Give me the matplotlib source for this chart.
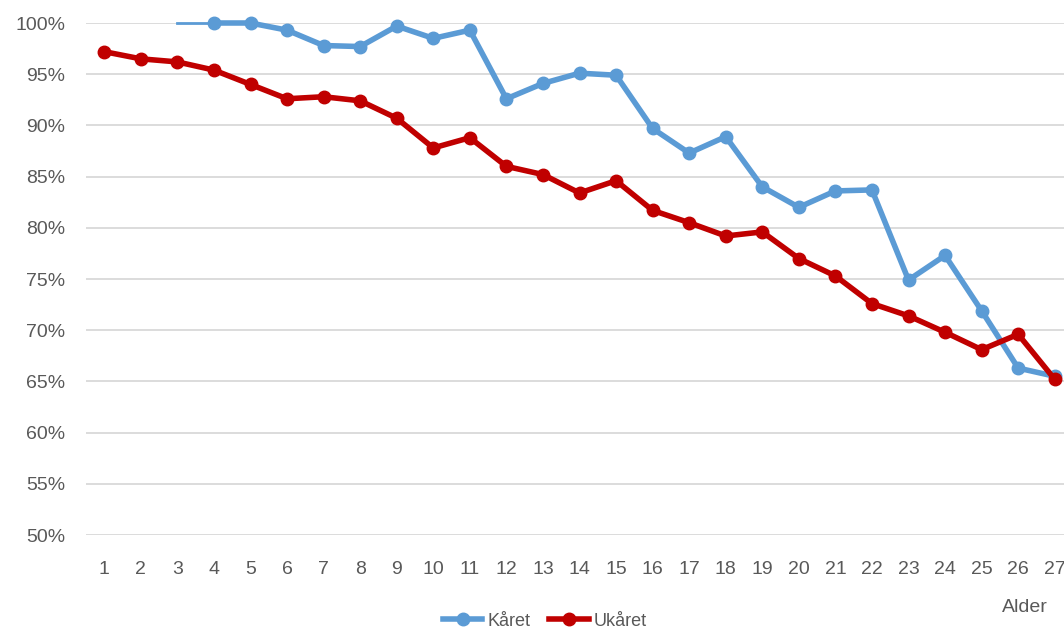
import matplotlib.pyplot as plt
import numpy as np

plt.rcParams['font.family'] = ['Liberation Sans', 'DejaVu Sans']

# data
alder = np.arange(1, 28)
kaaret = [np.nan, np.nan, 100.0, 100.0, 100.0, 99.3, 97.8, 97.7, 99.7, 98.5, 99.3,
          92.6, 94.1, 95.1, 94.9, 89.7, 87.3, 88.9, 84.0, 82.0, 83.6, 83.7,
          74.9, 77.3, 71.9, 66.3, 65.5]
ukaaret = [97.2, 96.5, 96.2, 95.4, 94.0, 92.6, 92.8, 92.4, 90.7, 87.8, 88.8,
           86.0, 85.2, 83.4, 84.6, 81.7, 80.5, 79.2, 79.6, 77.0, 75.3, 72.6,
           71.4, 69.8, 68.1, 69.6, 65.2]

blue = '#5B9BD5'
red = '#C00000'
grey = '#595959'

fig = plt.figure(figsize=(10.64, 6.3), dpi=100)
ax = fig.add_axes([86 / 1064, 95 / 630, 987 / 1064, 512 / 630])

# første stykke (3-4) er tynnere og uten markør
ax.plot(alder[2:4], kaaret[2:4], color=blue, linewidth=2, clip_on=False, zorder=3)
ax.plot(alder[3:], kaaret[3:], color=blue, linewidth=4, marker='o', markersize=9,
        label='Kåret', clip_on=False, zorder=3)
ax.plot(alder, ukaaret, color=red, linewidth=4, marker='o', markersize=9,
        label='Ukåret', clip_on=False, zorder=4)

ax.set_xlim(0.5, 27.5)
ax.set_ylim(50, 100)
ax.set_yticks(np.arange(50, 101, 5))
ax.set_yticklabels([f'{v}%' for v in range(50, 101, 5)])
ax.set_xticks(alder)
ax.set_xticklabels([str(a) for a in alder])

ax.grid(axis='y', color='#D9D9D9', linewidth=1.3)
ax.set_axisbelow(True)
for s in ax.spines.values():
    s.set_visible(False)
ax.tick_params(length=0, labelsize=14, colors=grey)
ax.tick_params(axis='x', pad=19)
ax.tick_params(axis='y', pad=15)

fig.text(1025 / 1064, 1 - 608 / 630, 'Alder', ha='center', va='center',
         fontsize=14, color=grey)

fig.legend(loc='center', bbox_to_anchor=(545 / 1064, 1 - 621 / 630), ncol=2,
           frameon=False, fontsize=13, labelcolor=grey, handlelength=2.2,
           columnspacing=1.0, handletextpad=0.3)

plt.savefig('out.png', dpi=100)
